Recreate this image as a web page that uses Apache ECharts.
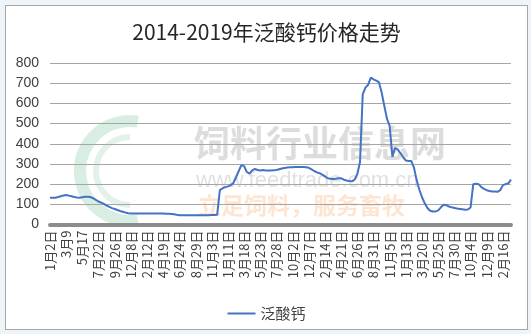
<!DOCTYPE html>
<html>
<head>
<meta charset="utf-8">
<script src="https://cdn.jsdelivr.net/npm/echarts@6/dist/echarts.min.js"></script>
<style>
  html, body { margin: 0; padding: 0; background: #eef4f8; width: 531px; height: 334px; overflow: hidden; }
  #chart { position: absolute; left: 5px; top: 5px; width: 521px; height: 323px; border: 1px solid #a6a6a6; background: #ffffff; }
</style>
</head>
<body>
<div id="chart"></div>
<script>
const title = '2014-2019年泛酸钙价格走势';
const seriesName = '泛酸钙';
const tickLabels = ['1月2日','3月9','5月17','7月22日','9月26日','12月8日','2月12日','4月19日','6月24日','8月29日','11月3日','1月11日','3月18日','5月23日','7月28日','10月2日','12月7日','2月14日','4月21日','6月26日','8月31日','11月5日','1月13日','3月20日','5月25日','7月30日','10月4日','12月9日','2月16日'];
const pointsPerTick = 6;
const prices = [
  132,132,133,136,140,144,146,143,140,136,134,133,
  135,137,137,136,130,122,114,108,102,94,87,81,
  77,72,67,63,59,56,55,55,54,54,54,54,
  54,54,54,54,54,54,54,53,53,52,51,48,
  46,46,46,46,46,46,46,46,46,46,46,46,
  47,47,48,170,179,185,189,194,205,233,265,294,
  289,260,252,268,275,270,268,270,268,268,268,269,
  270,274,277,280,282,283,284,285,285,285,285,284,
  281,273,265,258,254,247,238,229,227,225,227,229,
  229,222,218,215,214,222,250,310,645,678,692,728,
  719,713,705,655,588,523,488,335,380,371,354,333,
  317,315,315,282,220,172,135,105,82,68,64,65,
  70,85,98,96,89,85,82,79,77,75,73,74,
  84,200,202,200,185,177,170,166,164,163,162,170,
  195,200,204,222
];
const yTicks = { min: 0, max: 800, interval: 100 };
const watermark = ['饲料行业信息网', 'www.feedtrade.com.cn', '立足饲料，服务畜牧'];

const categories = prices.map((_, i) => 'p' + i);

const chart = echarts.init(document.getElementById('chart'), null, { renderer: 'canvas' });
const font = '"Liberation Sans", "Noto Sans CJK SC", sans-serif';
chart.setOption({
  animation: false,
  backgroundColor: '#ffffff',
  title: {
    text: title,
    left: 'center',
    top: 11,
    textStyle: { fontSize: 21, fontWeight: 'normal', color: '#262626', fontFamily: '"Noto Sans CJK SC", sans-serif' }
  },
  graphic: [
    { type: 'arc', shape: { cx: 124, cy: 165, r: 50, startAngle: Math.PI * 0.45, endAngle: Math.PI * 1.55 }, style: { stroke: '#d8eee2', lineWidth: 12, fill: null }, z: 0 },
    { type: 'arc', shape: { cx: 124, cy: 165, r: 34, startAngle: Math.PI * 0.5, endAngle: Math.PI * 1.5 }, style: { stroke: '#e2f2e9', lineWidth: 6, fill: null }, z: 0 },
    { type: 'text', left: 188, top: 119, style: { text: watermark[0], font: 'bold 36px "Noto Sans CJK SC"', fill: 'rgba(170,170,170,0.4)' }, z: 0 },
    { type: 'text', left: 190, top: 164, style: { text: watermark[1], font: '22px "Liberation Sans"', fill: 'rgba(170,170,170,0.35)' }, z: 0 },
    { type: 'text', left: 192, top: 188, style: { text: watermark[2], font: 'bold 23px "Noto Sans CJK SC"', fill: 'rgba(250,190,140,0.4)' }, z: 0 }
  ],
  legend: {
    data: [seriesName],
    left: 'center',
    top: 295,
    icon: 'rect',
    itemWidth: 28,
    itemHeight: 2,
    itemGap: 5,
    textStyle: { fontSize: 15, color: '#404040', fontFamily: '"Noto Sans CJK SC", sans-serif' }
  },
  grid: { left: 44, right: 16, top: 57, bottom: 104.5, containLabel: false },
  xAxis: {
    type: 'category',
    data: categories,
    boundaryGap: false,
    axisLine: { show: true, lineStyle: { color: '#8c8c8c', width: 4 } },
    axisTick: { show: false },
    axisLabel: {
      rotate: 90,
      fontSize: 13,
      color: '#404040',
      margin: 6,
      fontFamily: '"Noto Sans CJK SC", sans-serif',
      interval: (idx) => idx % pointsPerTick === 0,
      formatter: (v, idx) => (idx % pointsPerTick === 0 ? (tickLabels[idx / pointsPerTick] || '') : '')
    },
    splitLine: { show: false }
  },
  yAxis: {
    type: 'value',
    min: yTicks.min,
    max: yTicks.max,
    interval: yTicks.interval,
    axisLine: { show: false },
    axisTick: { show: false },
    axisLabel: { fontSize: 14, color: '#404040', margin: 11, fontFamily: font },
    splitLine: { lineStyle: { color: '#a6a6a6', width: 1 } }
  },
  series: [{
    name: seriesName,
    type: 'line',
    data: prices,
    symbol: 'none',
    showSymbol: false,
    lineStyle: { color: '#4472C4', width: 2 },
    itemStyle: { color: '#4472C4' },
    z: 5
  }]
});
</script>
</body>
</html>
